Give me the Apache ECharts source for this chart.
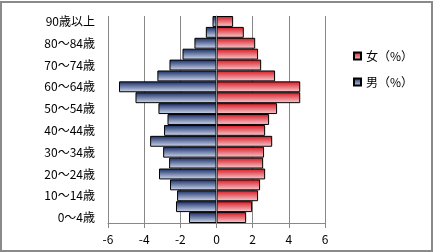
<!DOCTYPE html>
<html><head><meta charset="utf-8">
<script src="https://cdn.jsdelivr.net/npm/echarts@6/dist/echarts.min.js"></script>
<style>html,body{margin:0;padding:0;background:#fff}#c{width:433px;height:252px}</style>
</head><body><div id="c"></div>
<script>
const categories = ['0～4歳','5～9歳','10～14歳','15～19歳','20～24歳','25～29歳','30～34歳','35～39歳','40～44歳','45～49歳','50～54歳','55～59歳','60～64歳','65～69歳','70～74歳','75～79歳','80～84歳','85～89歳','90歳以上'];
const male = [-1.52,-2.24,-2.18,-2.57,-3.18,-2.62,-2.95,-3.67,-2.90,-2.71,-3.21,-4.48,-5.39,-3.27,-2.60,-1.88,-1.22,-0.59,-0.22];
const female = [1.64,1.97,2.30,2.41,2.69,2.58,2.63,3.08,2.69,2.91,3.35,4.63,4.63,3.24,2.47,2.30,2.14,1.51,0.92];
const xTicks = [-6,-4,-2,0,2,4,6];
const seriesNames = ['女（%）','男（%）'];

const chart = echarts.init(document.getElementById('c'), null, {renderer:'canvas'});
const font = '"Noto Sans CJK JP","Noto Sans",sans-serif';
const grad = (c1,c2)=>new echarts.graphic.LinearGradient(0,0,0,1,[{offset:0,color:c1},{offset:1,color:c2}]);
chart.setOption({
  animation:false,
  backgroundColor:'#fff',
  graphic:[{type:'rect',shape:{x:1,y:2,width:431,height:249},style:{fill:'none',stroke:'#8a8a8a',lineWidth:2},silent:true}],
  grid:{left:108,right:108,top:16,bottom:29},
  legend:{orient:'vertical',left:348,top:45,itemWidth:7,itemHeight:7,itemGap:14,icon:'rect',
    data:seriesNames,textStyle:{fontFamily:font,fontSize:12,color:'#000'}},
  xAxis:{type:'value',min:xTicks[0],max:xTicks[xTicks.length-1],interval:2,
    axisLine:{show:true,onZero:false,lineStyle:{color:'#888'}},
    axisTick:{show:true,length:5,lineStyle:{color:'#888'}},
    splitLine:{show:true,lineStyle:{color:'#888',width:1}},
    axisLabel:{fontFamily:font,fontSize:12,color:'#000',margin:10}},
  yAxis:[
    {type:'category',data:categories,position:'left',z:5,
     axisLine:{show:true,onZero:true,lineStyle:{color:'#888'}},axisTick:{show:false},axisLabel:{show:false}},
    {type:'category',data:categories,position:'left',
     axisLine:{show:false,onZero:false},axisTick:{show:false},
     axisLabel:{interval:1,fontFamily:font,fontSize:12,color:'#000',margin:13}}
  ],
  series:[
    {name:seriesNames[0],type:'bar',data:female,yAxisIndex:0,barGap:'-100%',barCategoryGap:0,
     itemStyle:{color:grad('#d9141e','#f6d0d4'),borderColor:'#000',borderWidth:1}},
    {name:seriesNames[1],type:'bar',data:male,yAxisIndex:0,barGap:'-100%',barCategoryGap:0,
     itemStyle:{color:grad('#142a64','#d4dcf0'),borderColor:'#000',borderWidth:1}}
  ]
});
</script></body></html>
